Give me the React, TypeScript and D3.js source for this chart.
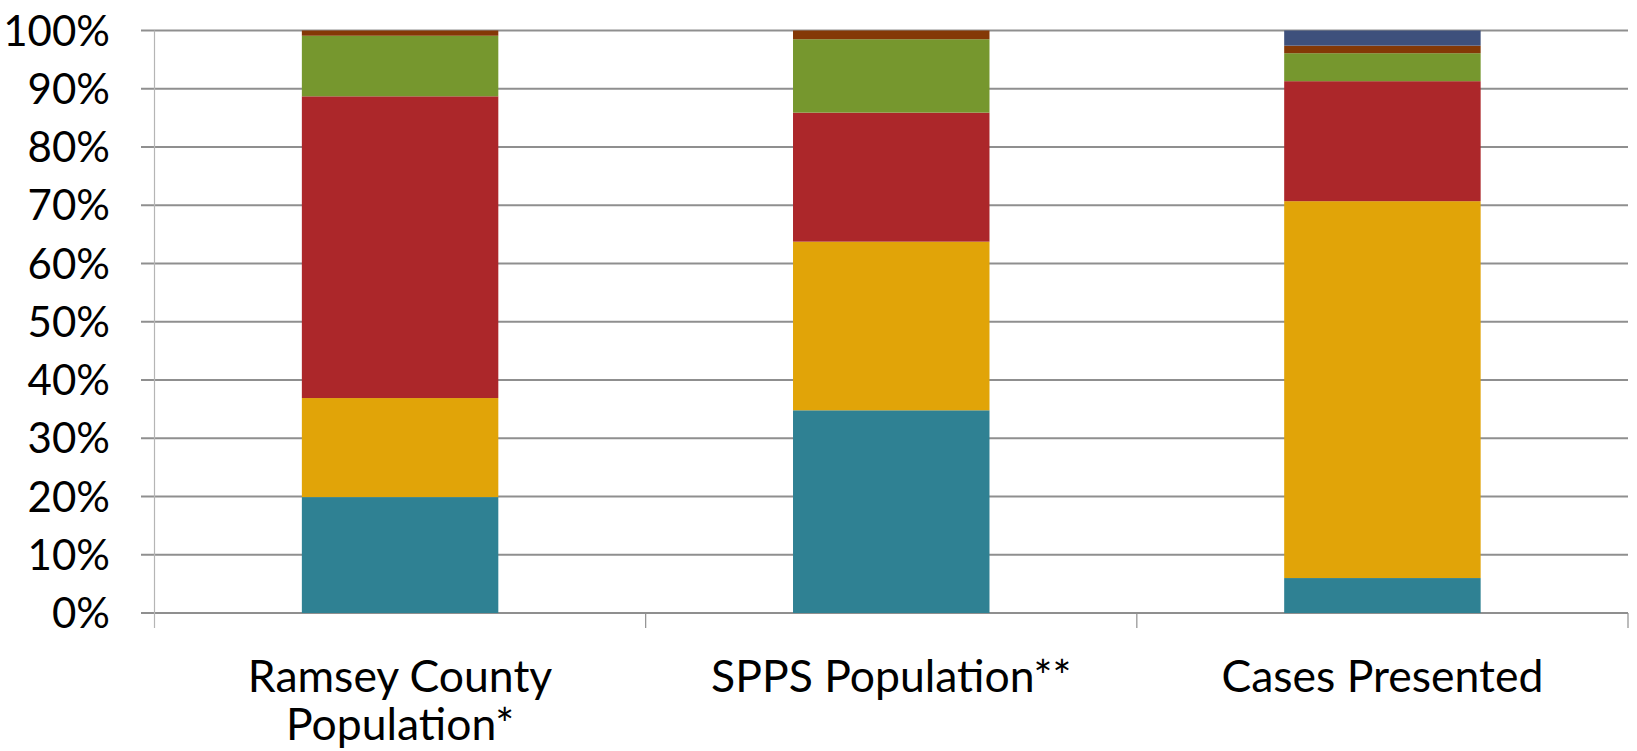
import React from "react";
import * as d3 from "d3";

const categories = ["Ramsey County Population*", "SPPS Population**", "Cases Presented"];
const categoryLines = [["Ramsey County", "Population*"], ["SPPS Population**"], ["Cases Presented"]];
const seriesNames = ["s1", "s2", "s3", "s4", "s5", "s6"];
const seriesColors = ["#2F8193", "#E1A408", "#AC272A", "#76972E", "#843806", "#3E507C"];
const s1 = [0.199, 0.348, 0.06];
const s2 = [0.17, 0.2895, 0.647];
const s3 = [0.518, 0.2215, 0.206];
const s4 = [0.104, 0.126, 0.048];
const s5 = [0.009, 0.015, 0.013];
const s6 = [0.0, 0.0, 0.026];
const yTicks = [0, 0.1, 0.2, 0.3, 0.4, 0.5, 0.6, 0.7, 0.8, 0.9, 1.0];

const W = 1637;
const H = 751;
const left = 154.5;
const right = 1628;
const top = 30.5;
const bottom = 613;

export default function App() {
  const rows = categories.map((c, i) => ({
    cat: c,
    s1: s1[i], s2: s2[i], s3: s3[i], s4: s4[i], s5: s5[i], s6: s6[i],
  }));
  const stack = d3.stack<any>().keys(seriesNames);
  const layers = stack(rows);
  const x = d3.scaleBand<string>().domain(categories).range([left, right]).padding(0);
  const y = d3.scaleLinear().domain([0, 1]).range([bottom, top]);
  const bw = x.bandwidth() * 0.4;
  const font = "Lato, 'Open Sans', sans-serif";
  const tickXs = [left, ...categories.map((c) => (x(c) as number) + x.bandwidth())];

  return (
    <svg width={W} height={H} style={{ position: "absolute", left: 0, top: 0, background: "#fff" }}>
      {yTicks.map((t) => (
        <line key={"g" + t} x1={141} x2={right} y1={y(t)} y2={y(t)} stroke="#8f8f8f" strokeWidth={1.8} />
      ))}
      <line x1={left} x2={left} y1={top} y2={628} stroke="#b5b5b5" strokeWidth={1.2} />
      {tickXs.slice(1).map((tx, i) => (
        <line key={"t" + i} x1={tx} x2={tx} y1={bottom} y2={628} stroke="#8f8f8f" strokeWidth={1.2} />
      ))}
      {layers.map((layer, li) => (
        <g key={layer.key} fill={seriesColors[li]}>
          {layer.map((d, i) => {
            const cx = (x(categories[i]) as number) + x.bandwidth() / 2;
            const h = y(d[0]) - y(d[1]);
            if (h <= 0) return null;
            return <rect key={i} x={cx - bw / 2} y={y(d[1])} width={bw} height={h} />;
          })}
        </g>
      ))}
      {yTicks.map((t) => (
        <text key={"l" + t} x={110} y={y(t)} dy="0.36em" textAnchor="end" fontFamily={font} fontSize={42} fill="#000">
          {d3.format(".0%")(t)}
        </text>
      ))}
      {categories.map((c, i) => {
        const cx = (x(c) as number) + x.bandwidth() / 2;
        return (
          <text key={c} x={cx} y={692} textAnchor="middle" fontFamily={font} fontSize={44.5} fill="#000">
            {categoryLines[i].map((ln, j) => (
              <tspan key={j} x={cx} dy={j === 0 ? 0 : 48}>{ln}</tspan>
            ))}
          </text>
        );
      })}
    </svg>
  );
}
